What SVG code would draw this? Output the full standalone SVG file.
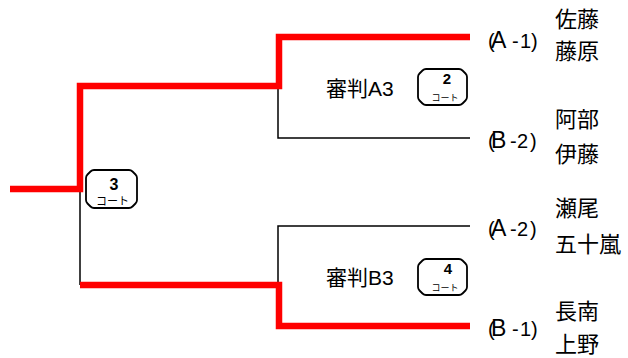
<svg xmlns="http://www.w3.org/2000/svg" width="628" height="358" viewBox="0 0 628 358">
<style>
.red{stroke:#ff0000;stroke-width:6.5;fill:none;stroke-linecap:butt;stroke-linejoin:miter}
.blk{stroke:#000;stroke-width:1.5;fill:none}
.badge{fill:#fff;stroke:#000;stroke-width:1.8;stroke-linejoin:round}
.num{font-family:"Liberation Sans",Arial,sans-serif;font-weight:bold;text-anchor:middle}
.ct{font-family:"Noto Sans CJK JP",sans-serif;text-anchor:middle}
.ref{font-family:"Liberation Sans","Noto Sans CJK JP",sans-serif;font-size:21px}
.lbl{font-family:"Liberation Sans",Arial,sans-serif;font-size:20px}
.big{font-size:23px}
.nm{font-family:"Noto Sans CJK JP",sans-serif;font-size:22px}
</style>
<defs>
<path id="bd3" d="M8,0 H43 Q45,0 46.5,1.5 L49.5,4.5 Q51,6 51,8 V30 Q51,32 49.5,33.5 L46.5,36.5 Q45,38 43,38 H8 Q6,38 4.5,36.5 L1.5,33.5 Q0,32 0,30 V8 Q0,6 1.5,4.5 L4.5,1.5 Q6,0 8,0 Z"/>
<path id="bd" d="M8,0 H41 Q43,0 44.5,1.5 L47.5,4.5 Q49,6 49,8 V28 Q49,30 47.5,31.5 L44.5,34.5 Q43,36 41,36 H8 Q6,36 4.5,34.5 L1.5,31.5 Q0,30 0,28 V8 Q0,6 1.5,4.5 L4.5,1.5 Q6,0 8,0 Z"/>
</defs>
<g id="connectors">
<polyline class="blk" points="80,189 80,285"/>
<polyline class="blk" points="278,86 278,138 470,138"/>
<polyline class="blk" points="470,226 278,226 278,285"/>
<polyline class="red" points="10,189 80,189 80,86 279,86 279,37 470,37"/>
<polyline class="red" points="80,285 279,285 279,326 470,326"/>
</g>
<g id="court3">
<use href="#bd3" class="badge" x="86" y="170"/>
<text class="num" x="114" y="190" font-size="16">3</text>
<text class="ct" x="112.5" y="205" font-size="11">コート</text>
</g>
<g id="judgeA3">
<text class="ref" x="326" y="96">審判A3</text>
</g>
<g id="court2">
<use href="#bd" class="badge" x="418" y="69"/>
<text class="num" x="447" y="84" font-size="15">2</text>
<text class="ct" x="445" y="101" font-size="9">コート</text>
</g>
<g id="judgeB3">
<text class="ref" x="326" y="285">審判B3</text>
</g>
<g id="court4">
<use href="#bd" class="badge" x="418" y="259"/>
<text class="num" x="448" y="274" font-size="15">4</text>
<text class="ct" x="445" y="291" font-size="9">コート</text>
</g>
<g id="A1">
<text class="lbl" y="48"><tspan x="488">(</tspan><tspan x="491" class="big">A</tspan><tspan x="512">-</tspan><tspan x="520">1</tspan><tspan x="531">)</tspan></text>
<text class="nm" x="555" y="27">佐藤</text>
<text class="nm" x="555" y="59">藤原</text>
</g>
<g id="B2">
<text class="lbl" y="148"><tspan x="488">(</tspan><tspan x="491" class="big">B</tspan><tspan x="510">-</tspan><tspan x="517">2</tspan><tspan x="530">)</tspan></text>
<text class="nm" x="555" y="127">阿部</text>
<text class="nm" x="555" y="162">伊藤</text>
</g>
<g id="A2">
<text class="lbl" y="236"><tspan x="488">(</tspan><tspan x="491" class="big">A</tspan><tspan x="510">-</tspan><tspan x="517">2</tspan><tspan x="530">)</tspan></text>
<text class="nm" x="555" y="216">瀬尾</text>
<text class="nm" x="555" y="252">五十嵐</text>
</g>
<g id="B1">
<text class="lbl" y="336"><tspan x="488">(</tspan><tspan x="491" class="big">B</tspan><tspan x="512">-</tspan><tspan x="520">1</tspan><tspan x="531">)</tspan></text>
<text class="nm" x="555" y="319">長南</text>
<text class="nm" x="555" y="352">上野</text>
</g>
</svg>
